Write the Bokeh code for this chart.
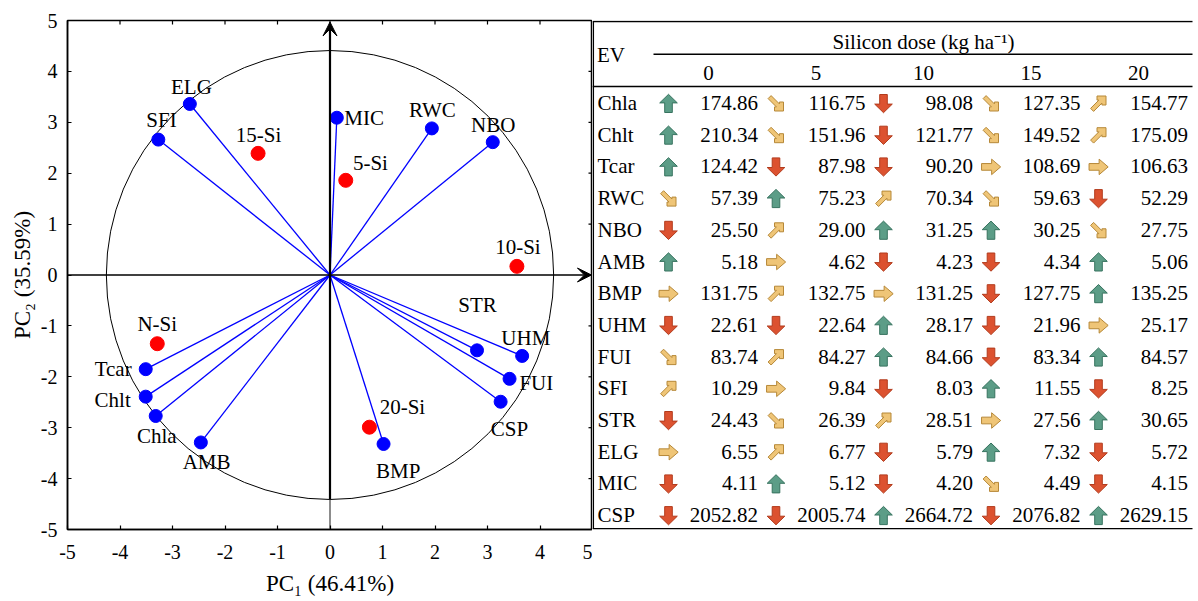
from bokeh.plotting import figure
from bokeh.layouts import row
from bokeh.models import Range1d, FixedTicker, Arrow, VeeHead, ColumnDataSource
from bokeh.embed import file_html
from bokeh.resources import INLINE
from bokeh.core.properties import value

FONT = "Liberation Serif"

# ---------------- biplot data ----------------
var_names = ["Chla", "Chlt", "Tcar", "RWC", "NBO", "AMB", "BMP", "UHM", "FUI", "SFI", "STR", "ELG", "MIC", "CSP"]
var_pc1 = [-3.32, -3.51, -3.51, 1.94, 3.10, -2.46, 1.02, 3.66, 3.42, -3.27, 2.80, -2.67, 0.13, 3.25]
var_pc2 = [-2.77, -2.39, -1.85, 2.88, 2.61, -3.29, -3.32, -1.59, -2.04, 2.66, -1.48, 3.36, 3.09, -2.49]

trt_names = ["N-Si", "5-Si", "10-Si", "15-Si", "20-Si"]
trt_pc1 = [-3.29, 0.30, 3.56, -1.37, 0.75]
trt_pc2 = [-1.35, 1.86, 0.17, 2.39, -2.99]

axis_ticks = [-5, -4, -3, -2, -1, 0, 1, 2, 3, 4, 5]
pc1_label = "PC\u2081 (46.41%)"
pc2_label = "PC\u2082 (35.59%)"

# label offsets (layout only)
var_lab_dx = [0.02, -0.63, -0.62, 0.01, 0.01, 0.11, 0.28, 0.07, 0.51, 0.06, 0.01, 0.03, 0.52, 0.17]
var_lab_dy = [-0.39, -0.07, 0.0, 0.37, 0.34, -0.39, -0.53, 0.35, -0.09, 0.38, 0.89, 0.33, -0.01, -0.54]
trt_lab_dx = [0.0, 0.47, 0.02, 0.01, 0.63]
trt_lab_dy = [0.39, 0.34, 0.38, 0.37, 0.39]

# ---------------- table data ----------------
table_rows = ["Chla", "Chlt", "Tcar", "RWC", "NBO", "AMB", "BMP", "UHM", "FUI", "SFI", "STR", "ELG", "MIC", "CSP"]
doses = ["0", "5", "10", "15", "20"]
dose_0 = [174.86, 210.34, 124.42, 57.39, 25.50, 5.18, 131.75, 22.61, 83.74, 10.29, 24.43, 6.55, 4.11, 2052.82]
dose_5 = [116.75, 151.96, 87.98, 75.23, 29.00, 4.62, 132.75, 22.64, 84.27, 9.84, 26.39, 6.77, 5.12, 2005.74]
dose_10 = [98.08, 121.77, 90.20, 70.34, 31.25, 4.23, 131.25, 28.17, 84.66, 8.03, 28.51, 5.79, 4.20, 2664.72]
dose_15 = [127.35, 149.52, 108.69, 59.63, 30.25, 4.34, 127.75, 21.96, 83.34, 11.55, 27.56, 7.32, 4.49, 2076.82]
dose_20 = [154.77, 175.09, 106.63, 52.29, 27.75, 5.06, 135.25, 25.17, 84.57, 8.25, 30.65, 5.72, 4.15, 2629.15]
trend_0 = ["U", "U", "U", "SE", "D", "U", "R", "D", "SE", "NE", "D", "R", "D", "D"]
trend_5 = ["SE", "SE", "D", "U", "NE", "R", "NE", "D", "NE", "R", "SE", "NE", "U", "D"]
trend_10 = ["D", "D", "D", "NE", "U", "D", "R", "U", "U", "D", "NE", "D", "D", "U"]
trend_15 = ["SE", "SE", "R", "SE", "U", "D", "D", "D", "D", "U", "R", "U", "SE", "D"]
trend_20 = ["NE", "NE", "R", "D", "SE", "U", "U", "R", "U", "D", "U", "D", "D", "U"]
dose_values = [dose_0, dose_5, dose_10, dose_15, dose_20]
dose_trends = [trend_0, trend_5, trend_10, trend_15, trend_20]
table_title = "Silicon dose (kg ha\u207b\u00b9)"
table_corner = "EV"

# ---------------- biplot ----------------
XMIN, XMAX, YMIN, YMAX = -5, 5, -5, 5
FIG_H = 600
BORDER_TOP, BORDER_BOTTOM, BORDER_LEFT = 20, 71, 67
LEFT_W = 592
p = figure(width=LEFT_W, height=FIG_H, x_range=Range1d(XMIN, XMAX), y_range=Range1d(YMIN, YMAX),
           output_backend="svg", toolbar_location=None,
           min_border_left=BORDER_LEFT, min_border_right=0, min_border_top=BORDER_TOP,
           min_border_bottom=BORDER_BOTTOM,
           background_fill_color="white", border_fill_color="white")
p.grid.visible = False
p.outline_line_color = "black"
p.outline_line_width = 1.5

labels_map = {t: str(t) for t in axis_ticks}
for ax in (p.xaxis[0], p.yaxis[0]):
    ax.ticker = FixedTicker(ticks=axis_ticks)
    ax.major_label_overrides = labels_map
    ax.major_tick_in = 4
    ax.major_tick_out = 0
    ax.minor_tick_line_color = None
    ax.axis_line_width = 1.5
    ax.major_tick_line_width = 1.2
    ax.major_label_text_font = FONT
    ax.major_label_text_font_size = "20px"
    ax.major_label_text_color = "black"
    ax.axis_label_text_font = FONT
    ax.axis_label_text_font_style = "normal"
    ax.axis_label_text_font_size = "23px"
    ax.axis_label_text_color = "black"
p.xaxis[0].axis_label = pc1_label
p.yaxis[0].axis_label = pc2_label
p.xaxis[0].major_label_standoff = 15
p.xaxis[0].axis_label_standoff = 9
p.yaxis[0].major_label_standoff = 10
p.yaxis[0].axis_label_standoff = 3

# inward ticks on top and right edges of the frame
frame_w = LEFT_W - BORDER_LEFT
frame_h = FIG_H - BORDER_TOP - BORDER_BOTTOM
TICK_PX = 4
dx_tick = TICK_PX * (XMAX - XMIN) / frame_w
dy_tick = TICK_PX * (YMAX - YMIN) / frame_h
p.segment(x0=axis_ticks, y0=[YMAX] * len(axis_ticks), x1=axis_ticks, y1=[YMAX - dy_tick] * len(axis_ticks),
          line_color="black", line_width=1.2)
p.segment(x0=[XMAX] * len(axis_ticks), y0=axis_ticks, x1=[XMAX - dx_tick] * len(axis_ticks), y1=axis_ticks,
          line_color="black", line_width=1.2)

# correlation circle
CIRCLE_W, CIRCLE_H = 8.52, 8.82
p.ellipse(x=0, y=0, width=CIRCLE_W, height=CIRCLE_H, fill_color=None, line_color="black", line_width=1)

# axes through origin
p.segment(x0=[0], y0=[YMIN], x1=[0], y1=[-CIRCLE_H / 2], line_color="#666666", line_width=1.5)
p.add_layout(Arrow(end=VeeHead(size=14, fill_color="black", line_color="black"),
                   x_start=XMIN, y_start=0, x_end=XMAX - 0.02, y_end=0,
                   line_color="black", line_width=1.5))
p.add_layout(Arrow(end=VeeHead(size=14, fill_color="black", line_color="black"),
                   x_start=0, y_start=-CIRCLE_H / 2, x_end=0, y_end=YMAX - 0.03,
                   line_color="black", line_width=2.2))

vsrc = ColumnDataSource(dict(x=var_pc1, y=var_pc2, name=var_names,
                             lx=[a + b for a, b in zip(var_pc1, var_lab_dx)],
                             ly=[a + b for a, b in zip(var_pc2, var_lab_dy)]))
tsrc = ColumnDataSource(dict(x=trt_pc1, y=trt_pc2, name=trt_names,
                             lx=[a + b for a, b in zip(trt_pc1, trt_lab_dx)],
                             ly=[a + b for a, b in zip(trt_pc2, trt_lab_dy)]))

p.segment(x0=0, y0=0, x1="x", y1="y", source=vsrc, line_color="#0000ff", line_width=1.3)
p.scatter(x="x", y="y", source=vsrc, size=13, fill_color="#0000ff", line_color="#0000ff")
p.scatter(x="x", y="y", source=tsrc, size=14, fill_color="#ff0000", line_color="#ff0000")
for src in (vsrc, tsrc):
    p.text(x="lx", y="ly", text="name", source=src, text_font=value(FONT), text_font_size="21px",
           text_align="center", text_baseline="middle", text_color="black")

# ---------------- table ----------------
# the row layout aligns this frame with the biplot frame, so the y range is expressed
# in page pixels between the frame top and the frame bottom
TW = 606
FRAME_TOP = BORDER_TOP
FRAME_BOT = FIG_H - BORDER_BOTTOM
t = figure(width=TW, height=FIG_H, x_range=Range1d(0, TW), y_range=Range1d(FRAME_BOT, FRAME_TOP),
           output_backend="svg", toolbar_location=None, x_axis_location=None, y_axis_location=None,
           min_border_left=0, min_border_right=0, min_border_top=BORDER_TOP, min_border_bottom=BORDER_BOTTOM,
           outline_line_color=None, background_fill_color="white", border_fill_color="white")
t.grid.visible = False

Y_TOP, Y_SUB, Y_HEAD, Y_BOT = 21, 53.7, 86, FRAME_BOT - 0.8
ROW0, ROW_H = 102.5, 31.7
COL_ARROW0, COL_VAL0, COL_HEAD0, COL_STEP = 76, 165.5, 116, 107.5
SUB_X0, LINE_END = 61, 600

t.segment(x0=[0, SUB_X0, 0, 0, 0.75], y0=[Y_TOP, Y_SUB, Y_HEAD, Y_BOT, Y_TOP],
          x1=[LINE_END, LINE_END, LINE_END, LINE_END, 0.75], y1=[Y_TOP, Y_SUB, Y_HEAD, Y_BOT, Y_BOT],
          line_color="black", line_width=1.6)

txt = dict(text_font=value(FONT), text_font_size="21px", text_color="black", text_baseline="middle")
t.text(x=[COL_HEAD0 + 2 * COL_STEP], y=[41], text=[table_title], text_align="center", **txt)
t.text(x=[4.5], y=[54.5], text=[table_corner], text_align="left", **txt)
t.text(x=[COL_HEAD0 + k * COL_STEP for k in range(len(doses))], y=[72] * len(doses),
       text=doses, text_align="center", **txt)

row_y = [ROW0 + i * ROW_H for i in range(len(table_rows))]
t.text(x=[5] * len(table_rows), y=row_y, text=table_rows, text_align="left", **txt)

vx, vy, vt = [], [], []
for k, col in enumerate(dose_values):
    for i, v in enumerate(col):
        vx.append(COL_VAL0 + k * COL_STEP)
        vy.append(row_y[i])
        vt.append(f"{v:.2f}")
t.text(x=vx, y=vy, text=vt, text_align="right", **txt)

# arrow icon shapes (local, y up)
UP = [(0, 9.2), (8.8, 0.6), (3.8, 0.6), (3.8, -9), (-3.8, -9), (-3.8, 0.6), (-8.8, 0.6)]
NE = [(-1.5, 7.5), (7.5, 7.5), (7.5, -1.5), (3.4, -1.5), (3.4, 0.4),
      (-4.9, -7.9), (-7.9, -4.9), (0.4, 3.4), (-1.5, 3.4)]
SHAPES = {
    "U": UP,
    "D": [(x, -y) for x, y in UP],
    "R": [(y * 1.05, -x * 0.88) for x, y in UP],
    "NE": NE,
    "SE": [(x, -y) for x, y in NE],
}
STYLE = {
    "U": ("#5c9d87", "#37735f"),
    "D": ("#dc5230", "#b23b1c"),
    "R": ("#efc577", "#b68838"),
    "NE": ("#efc577", "#b68838"),
    "SE": ("#efc577", "#b68838"),
}
axs, ays, afill, aline = [], [], [], []
for k, col in enumerate(dose_trends):
    for i, tr in enumerate(col):
        cx = COL_ARROW0 + k * COL_STEP
        cy = row_y[i] + 0.5
        axs.append([cx + x for x, y in SHAPES[tr]])
        ays.append([cy - y for x, y in SHAPES[tr]])
        afill.append(STYLE[tr][0])
        aline.append(STYLE[tr][1])
t.patches(xs=axs, ys=ays, fill_color=afill, line_color=aline, line_width=1)

layout = row(p, t)
open("out.html", "w").write(file_html(layout, INLINE))
